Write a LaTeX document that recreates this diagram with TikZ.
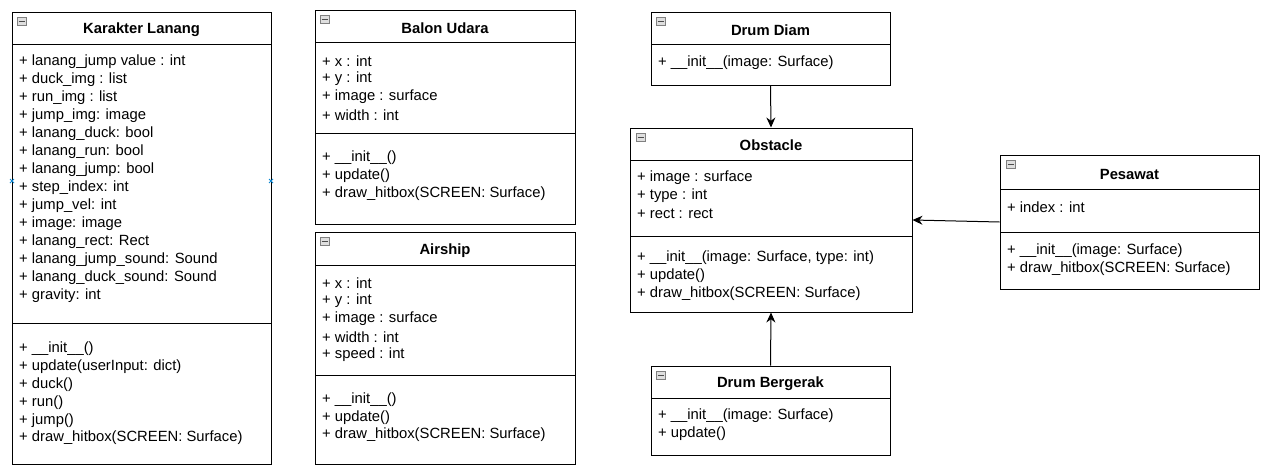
\documentclass[tikz,border=0pt]{standalone}
\usepackage{fontspec}
\setmainfont{Liberation Sans}
\usetikzlibrary{arrows.meta}
\tikzset{
  box/.style={draw=black, line width=1pt, inner sep=0pt, fill=white},
  sep/.style={draw=black, line width=1pt},
  attr/.style={anchor=west, inner sep=0pt, font=\fontsize{14.8}{16}\selectfont},
  title/.style={inner sep=0pt, font=\bfseries\fontsize{14.8}{16}\selectfont},
  icon/.style={draw=gray, fill=gray!25, line width=0.6pt},
  conn/.style={draw=black, line width=1pt, -{Stealth[length=10pt,width=9pt]}},
  marker/.style={draw=cyan!70!blue, line width=0.8pt}
}
\newcommand{\collapseicon}[2]{%
  \draw[icon] (#1,#2) rectangle ++(9,8);
  \draw[gray!60!black, line width=0.9pt] (#1+1.5,#2+4) -- ++(6,0);
}
\begin{document}
\begin{tikzpicture}[x=1pt,y=-1pt]
\useasboundingbox (0,0) rectangle (1270,471);

% ---------- Karakter Lanang ----------
\node[box, minimum width=259pt, minimum height=452pt] (kl) at (141.5,238) {};
\draw[sep] (12,44) -- (271,44);
\draw[sep] (12,323) -- (271,323);
\collapseicon{17}{17}
\node[title] (klt) at (141.5,30) {Karakter Lanang};
\node[attr] (kla1) at (19,62) {+ lanang\_jump value : int};
\node[attr] (kla2) at (19,80) {+ duck\_img : list};
\node[attr] (kla3) at (19,98) {+ run\_img : list};
\node[attr] (kla4) at (19,116) {+ jump\_img: image};
\node[attr] (kla5) at (19,134) {+ lanang\_duck: bool};
\node[attr] (kla6) at (19,152) {+ lanang\_run: bool};
\node[attr] (kla7) at (19,170) {+ lanang\_jump: bool};
\node[attr] (kla8) at (19,188) {+ step\_index: int};
\node[attr] (kla9) at (19,206) {+ jump\_vel: int};
\node[attr] (kla10) at (19,224) {+ image: image};
\node[attr] (kla11) at (19,242) {+ lanang\_rect: Rect};
\node[attr] (kla12) at (19,260) {+ lanang\_jump\_sound: Sound};
\node[attr] (kla13) at (19,278) {+ lanang\_duck\_sound: Sound};
\node[attr] (kla14) at (19,296) {+ gravity: int};
\node[attr] (klm1) at (19,349) {+ \_\_init\_\_()};
\node[attr] (klm2) at (19,367) {+ update(userInput: dict)};
\node[attr] (klm3) at (19,385) {+ duck()};
\node[attr] (klm4) at (19,403) {+ run()};
\node[attr] (klm5) at (19,421) {+ jump()};
\node[attr] (klm6) at (19,438) {+ draw\_hitbox(SCREEN: Surface)};
\draw[marker] (10,179) -- (14,183) (10,183) -- (14,179);
\draw[marker] (269,179) -- (273,183) (269,183) -- (273,179);

% ---------- Balon Udara ----------
\node[box, minimum width=260pt, minimum height=214pt] (bu) at (445,117) {};
\draw[sep] (315,42) -- (575,42);
\draw[sep] (315,133) -- (575,133);
\collapseicon{320}{15}
\node[title] (but) at (445,28) {Balon Udara};
\node[attr] (bua1) at (322,61) {+ x : int};
\node[attr] (bua2) at (322,79) {+ y : int};
\node[attr] (bua3) at (322,97) {+ image : surface};
\node[attr] (bua4) at (322,115) {+ width : int};
\node[attr] (bum1) at (322,158) {+ \_\_init\_\_()};
\node[attr] (bum2) at (322,176) {+ update()};
\node[attr] (bum3) at (322,194) {+ draw\_hitbox(SCREEN: Surface)};

% ---------- Airship ----------
\node[box, minimum width=260pt, minimum height=232pt] (as) at (445,348) {};
\draw[sep] (315,265) -- (575,265);
\draw[sep] (315,375) -- (575,375);
\collapseicon{320}{237}
\node[title] (ast) at (445,251) {Airship};
\node[attr] (asa1) at (322,283) {+ x : int};
\node[attr] (asa2) at (322,301) {+ y : int};
\node[attr] (asa3) at (322,319) {+ image : surface};
\node[attr] (asa4) at (322,337) {+ width : int};
\node[attr] (asa5) at (322,355) {+ speed : int};
\node[attr] (asm1) at (322,400) {+ \_\_init\_\_()};
\node[attr] (asm2) at (322,418) {+ update()};
\node[attr] (asm3) at (322,435) {+ draw\_hitbox(SCREEN: Surface)};

% ---------- Drum Diam ----------
\node[box, minimum width=239pt, minimum height=73pt] (dd) at (770.5,48.5) {};
\draw[sep] (651,44) -- (890,44);
\collapseicon{656}{17}
\node[title] (ddt) at (770.5,30) {Drum Diam};
\node[attr] (ddm1) at (658,63) {+ \_\_init\_\_(image: Surface)};

% ---------- Obstacle ----------
\node[box, minimum width=282pt, minimum height=184pt] (ob) at (771,220) {};
\draw[sep] (630,160) -- (912,160);
\draw[sep] (630,236) -- (912,236);
\collapseicon{636}{133}
\node[title] (obt) at (771,145) {Obstacle};
\node[attr] (oba1) at (637,178) {+ image : surface};
\node[attr] (oba2) at (637,196) {+ type : int};
\node[attr] (oba3) at (637,214) {+ rect : rect};
\node[attr] (obm1) at (637,258) {+ \_\_init\_\_(image: Surface, type: int)};
\node[attr] (obm2) at (637,276) {+ update()};
\node[attr] (obm3) at (637,294) {+ draw\_hitbox(SCREEN: Surface)};

% ---------- Pesawat ----------
\node[box, minimum width=259pt, minimum height=134pt] (pe) at (1129.5,222) {};
\draw[sep] (1000,189) -- (1259,189);
\draw[sep] (1000,232) -- (1259,232);
\collapseicon{1006}{160}
\node[title] (pet) at (1129.5,174) {Pesawat};
\node[attr] (pea1) at (1007,207) {+ index : int};
\node[attr] (pem1) at (1007,251) {+ \_\_init\_\_(image: Surface)};
\node[attr] (pem2) at (1007,269) {+ draw\_hitbox(SCREEN: Surface)};

% ---------- Drum Bergerak ----------
\node[box, minimum width=239pt, minimum height=89pt] (db) at (770.5,410.5) {};
\draw[sep] (651,398) -- (890,398);
\collapseicon{656}{371}
\node[title] (dbt) at (770.5,384) {Drum Bergerak};
\node[attr] (dbm1) at (658,416) {+ \_\_init\_\_(image: Surface)};
\node[attr] (dbm2) at (658,434) {+ update()};

% ---------- connectors ----------
\draw[conn] (dd.south) -- (ob.north);
\draw[conn] (db.north) -- (ob.south);
\draw[conn] (pe.west) -- (ob.east);
\end{tikzpicture}
\end{document}
